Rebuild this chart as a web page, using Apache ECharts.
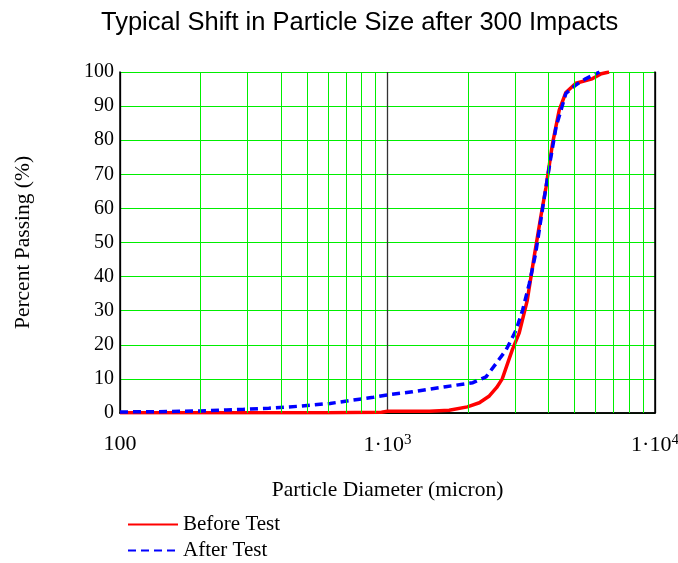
<!DOCTYPE html>
<html>
<head>
<meta charset="utf-8">
<script src="https://cdn.jsdelivr.net/npm/echarts@6/dist/echarts.min.js"></script>
<style>
html,body{margin:0;padding:0;background:#fff;}
#chart{width:678px;height:563px;}
</style>
</head>
<body>
<div id="chart"></div>
<script>
// ---- data ----
const beforeDiameter = [100, 300, 600, 950, 1000, 1435, 1700, 1988, 2205, 2403, 2560, 2685, 2927, 3108, 3329, 3537, 3750, 3909, 4139, 4385, 4643, 5059, 5821, 6300, 6735];
const beforePassing  = [0.1, 0.1, 0.1, 0.2, 0.5, 0.5, 0.8, 1.8, 3.0, 5.0, 7.5, 10, 18.5, 23.5, 33, 46, 58, 66, 79, 88.8, 94, 96.7, 98, 99.5, 100];
const afterDiameter  = [100, 140, 200, 250, 290, 360, 470, 610, 745, 885, 1040, 1240, 1650, 2085, 2335, 2545, 2775, 3025, 3200, 3390, 3580, 3800, 4060, 4270, 4385, 4643, 5059, 5500, 6200];
const afterPassing   = [0.3, 0.4, 0.6, 0.9, 1.1, 1.4, 2.0, 2.8, 3.8, 4.6, 5.5, 6.2, 7.7, 8.9, 10.6, 14.5, 18.5, 24.3, 30.2, 38, 46.8, 60, 74, 84, 87, 93.7, 96.2, 98, 100];
const seriesNames = ['Before Test', 'After Test'];
const minorGridX = [200, 300, 400, 500, 600, 700, 800, 900, 2000, 3000, 4000, 5000, 6000, 7000, 8000, 9000];

const serif = 'Liberation Serif, Times New Roman, serif';
const sans = 'Liberation Sans, Arial, sans-serif';

function zip(a, b) { return a.map((v, i) => [v, b[i]]); }

const legendCommon = {
  orient: 'vertical', left: 122,
  itemWidth: 50, itemHeight: 14,
  itemStyle: { color: 'transparent', borderWidth: 0, opacity: 0 },
  textStyle: { fontFamily: serif, fontSize: 21, color: '#000' }
};

const chart = echarts.init(document.getElementById('chart'));
chart.setOption({
  backgroundColor: '#fff',
  animation: false,
  title: {
    text: 'Typical Shift in Particle Size after 300 Impacts',
    left: 96, top: 5,
    textStyle: { fontFamily: sans, fontSize: 25.5, fontWeight: 'normal', color: '#000' }
  },
  legend: [
    Object.assign({ data: [seriesNames[0]], top: 509 }, legendCommon),
    Object.assign({ data: [seriesNames[1]], top: 535 }, legendCommon)
  ],
  grid: { left: 120, right: 23, top: 72, bottom: 150, outerBoundsMode: 'none', containLabel: false },
  xAxis: [{
    type: 'log', logBase: 10, min: 100, max: 10000,
    name: 'Particle Diameter (micron)', nameLocation: 'middle', nameGap: 66,
    nameTextStyle: { fontFamily: serif, fontSize: 21.5, color: '#000' },
    axisLine: { show: true, onZero: false, lineStyle: { color: '#000', width: 1.5 } },
    axisTick: { show: false },
    axisLabel: {
      margin: 20,
      formatter: function (v) {
        if (v === 100) return '{b|100}';
        const e = Math.round(Math.log10(v));
        return '{b|1·10}{s|' + e + '}';
      },
      rich: {
        b: { fontFamily: serif, fontSize: 22, color: '#000' },
        s: { fontFamily: serif, fontSize: 15, color: '#000', padding: [0, 0, 9, 0] }
      }
    },
    splitLine: { show: true, lineStyle: { color: ['#000', '#333', '#000'], width: 1.3 } }
  }, {
    type: 'log', logBase: 10, min: 100, max: 10000, position: 'top',
    axisLine: { show: true, lineStyle: { color: '#000', width: 1.5 } },
    axisTick: { show: false }, axisLabel: { show: false }, splitLine: { show: false }
  }],
  yAxis: [{
    type: 'value', min: 0, max: 100, interval: 10,
    name: 'Percent Passing (%)', nameLocation: 'middle', nameGap: 86,
    nameTextStyle: { fontFamily: serif, fontSize: 21.5, color: '#000' },
    axisLine: { show: true, lineStyle: { color: '#000', width: 1.5 } },
    axisTick: { show: false },
    axisLabel: { fontFamily: serif, fontSize: 20, color: '#000', margin: 6 },
    splitLine: { show: true, lineStyle: { color: '#00ee00', width: 1 } }
  }, {
    type: 'value', min: 0, max: 100, position: 'right',
    axisLine: { show: true, lineStyle: { color: '#000', width: 1.5 } },
    axisTick: { show: false }, axisLabel: { show: false }, splitLine: { show: false }
  }],
  series: [{
    name: '_grid', type: 'line', data: [], z: 1, silent: true,
    markLine: {
      silent: true, symbol: ['none', 'none'], animation: false,
      label: { show: false },
      lineStyle: { color: '#00ee00', width: 1, type: 'solid' },
      data: minorGridX.map(v => ({ xAxis: v }))
    }
  }, {
    name: seriesNames[0], type: 'line', symbol: 'none', showSymbol: false, smooth: false, z: 3,
    lineStyle: { color: '#ff0000', width: 3.5, type: 'solid' },
    itemStyle: { color: '#ff0000' },
    data: zip(beforeDiameter, beforePassing)
  }, {
    name: seriesNames[1], type: 'line', symbol: 'none', showSymbol: false, smooth: false, z: 4,
    lineStyle: { color: '#0000ff', width: 3.5, type: [8, 5] },
    itemStyle: { color: '#0000ff' },
    data: zip(afterDiameter, afterPassing)
  }]
});
</script>
</body>
</html>
